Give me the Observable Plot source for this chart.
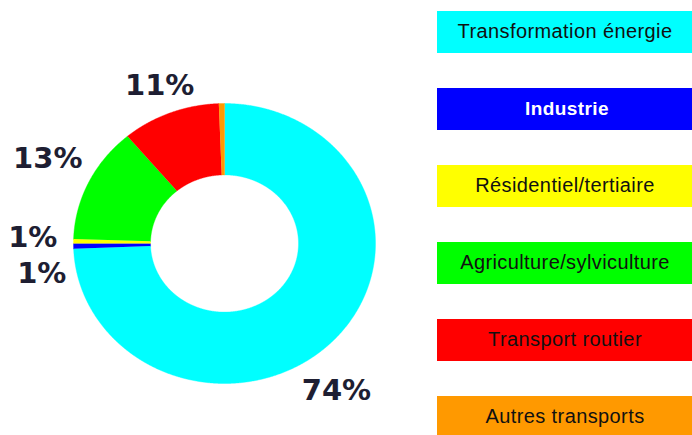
<!DOCTYPE html>
<html>
<head>
<meta charset="utf-8">
<script src="https://cdn.jsdelivr.net/npm/d3@7"></script>
<script src="https://cdn.jsdelivr.net/npm/@observablehq/plot@0.6"></script>
<style>
  html, body { margin: 0; padding: 0; background: #fff; overflow: hidden; }
  #wrap { display: flex; flex-direction: row; width: 692px; height: 435px; }
  #wrap svg { display: block; }
</style>
</head>
<body>
<div id="wrap"></div>
<script>
// ---- data ----
const categories = ["Transformation énergie", "Industrie", "Résidentiel/tertiaire", "Agriculture/sylviculture", "Transport routier", "Autres transports"];
const shares = [74.4, 0.6, 0.5, 13.4, 10.5, 0.6];
const pctLabels = ["74%", "1%", "1%", "13%", "11%", ""];
const colors = ["#00FFFF", "#0000FF", "#FFFF00", "#00FF00", "#FF0000", "#FF9900"];

// ---- geometry helpers (unit circle in data space) ----
const innerRatio = 0.49;
const labelRadius = 1.25;
const arcs = d3.pie().sort(null).value(d => d)(shares);
const slices = arcs.map((a, i) => ({
  name: categories[i], label: pctLabels[i],
  a0: a.startAngle, a1: a.endAngle, mid: (a.startAngle + a.endAngle) / 2
}));

const points = [];
for (const s of slices) {
  const n = Math.max(2, Math.ceil((s.a1 - s.a0) / (Math.PI / 720)));
  for (let k = 0; k <= n; k++) {
    const t = s.a0 + (s.a1 - s.a0) * k / n;
    points.push({name: s.name, x: Math.sin(t), y: Math.cos(t)});
  }
  for (let k = n; k >= 0; k--) {
    const t = s.a0 + (s.a1 - s.a0) * k / n;
    points.push({name: s.name, x: innerRatio * Math.sin(t), y: innerRatio * Math.cos(t)});
  }
}

const labelPts = slices.map(s => ({
  name: s.name, label: s.label,
  x: labelRadius * Math.sin(s.mid), y: labelRadius * Math.cos(s.mid)
}));

const labelFont = {fontFamily: "DejaVu Sans", fontSize: 29, fontWeight: "bold", fill: "#1e1e32"};
const label = (name, dx, dy) => Plot.text(labelPts, {
  filter: d => d.name === name, x: "x", y: "y", text: "label",
  dx, dy, textAnchor: "middle", ...labelFont
});

const donut = Plot.plot({
  width: 437, height: 435,
  margin: 0,
  x: {domain: [-1, 1], range: [73, 375], axis: null},
  y: {domain: [-1, 1], range: [383, 103], axis: null},
  color: {domain: categories, range: colors},
  marks: [
    Plot.line(points, {x: "x", y: "y", z: "name", fill: "name", stroke: "name", strokeWidth: 0.4, curve: "linear"}),
    label("Transformation énergie", -24, 26),
    label("Transport routier", 3, 6),
    label("Agriculture/sylviculture", -7, -8),
    label("Résidentiel/tertiaire", -3, -3),
    label("Industrie", 6, 27)
  ]
});

const legendFont = {fontFamily: "Liberation Sans, Arial, sans-serif", frameAnchor: "middle"};
const legend = Plot.plot({
  width: 255, height: 435,
  margin: 0,
  y: {type: "band", domain: categories, range: [9, 439], paddingInner: 0.458, paddingOuter: 0, axis: null},
  color: {domain: categories, range: colors},
  marks: [
    Plot.cell(categories, {y: d => d, fill: d => d, inset: 0}),
    Plot.text(categories, {filter: d => d !== "Industrie", y: d => d, text: d => d, fill: "#111", fontSize: 20, dy: -1, ...legendFont}),
    Plot.text(categories, {filter: d => d === "Industrie", y: d => d, text: d => d, fill: "#fff", fontSize: 19, fontWeight: "bold", dx: 2, dy: -1, ...legendFont})
  ]
});
legend.style.letterSpacing = "0.4px";

const wrap = document.getElementById("wrap");
wrap.appendChild(donut);
wrap.appendChild(legend);
</script>
</body>
</html>
